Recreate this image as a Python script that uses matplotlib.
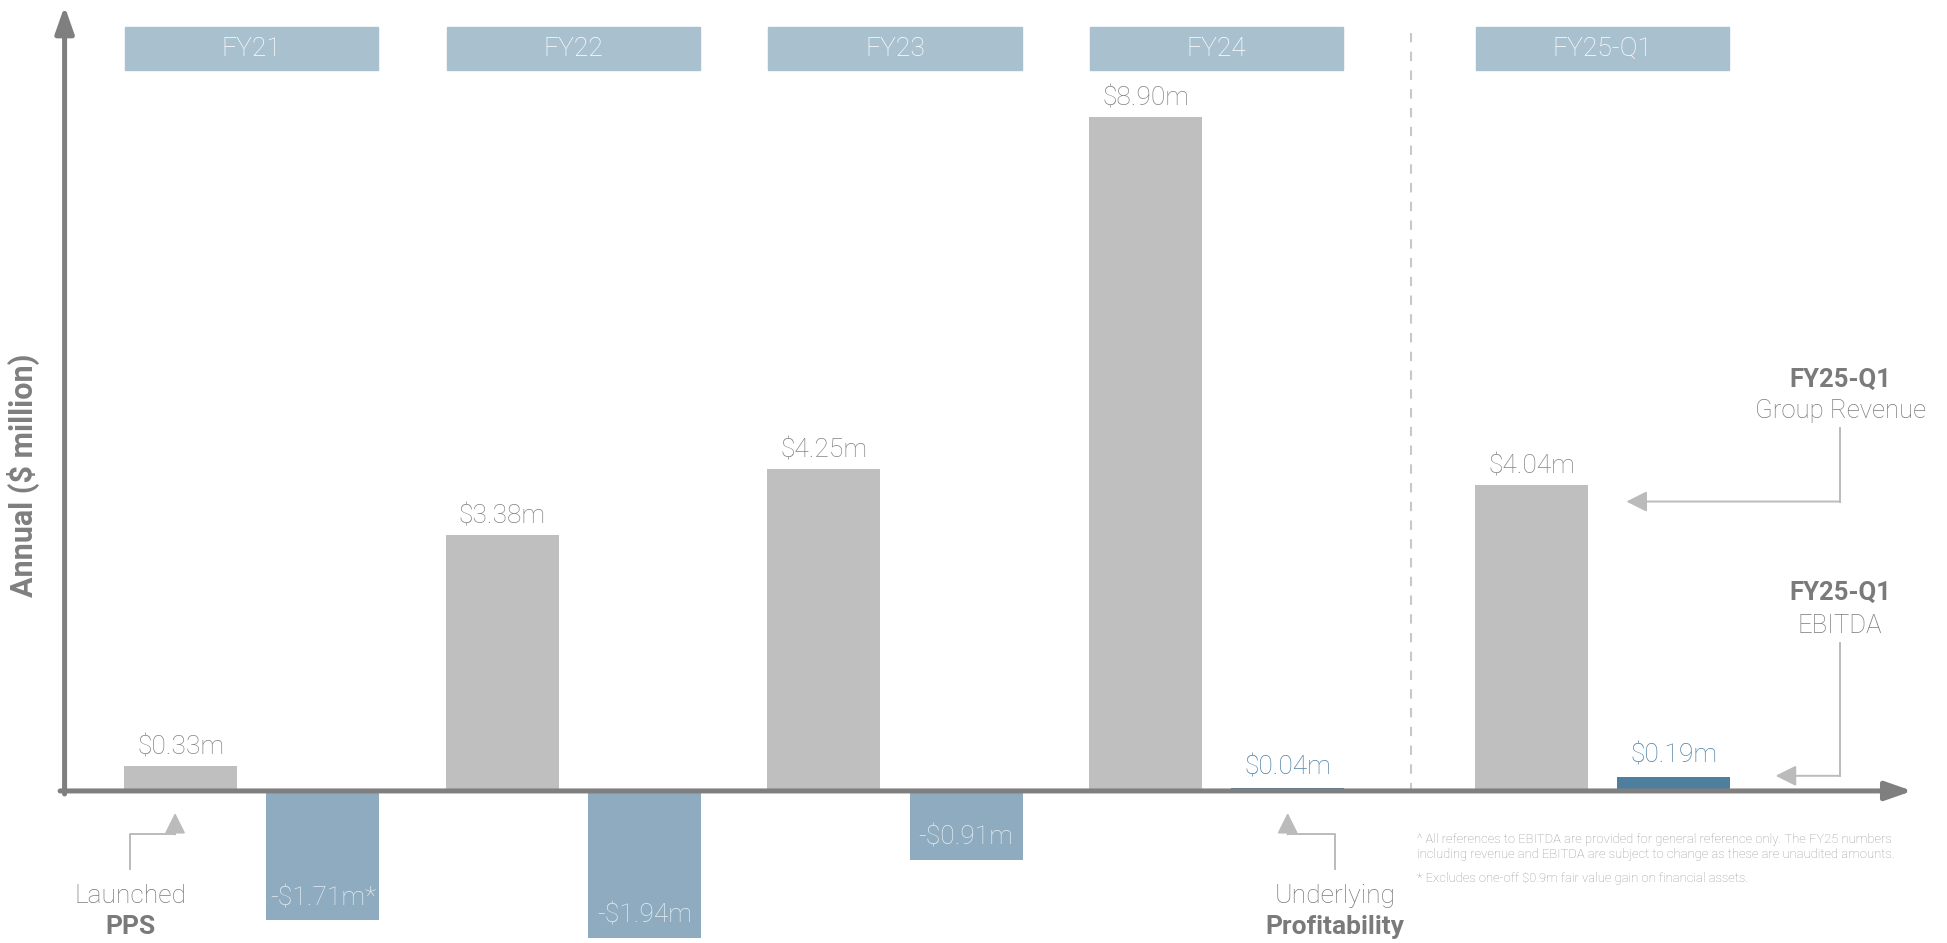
import matplotlib.pyplot as plt
from matplotlib.patches import Rectangle

plt.rcParams['font.family'] = ['Roboto', 'DejaVu Sans']

# data
periods = ["FY21", "FY22", "FY23", "FY24", "FY25-Q1"]
revenue = [0.33, 3.38, 4.25, 8.90, 4.04]
ebitda = [-1.71, -1.94, -0.91, 0.04, 0.19]
ebitda_labels = ["-$1.71m*", "-$1.94m", "-$0.91m", "$0.04m", "$0.19m"]
group_pos = [0, 1, 2, 3, 4.2]

REV_COL = "#bfbfbf"
NEG_COL = "#8eabbf"
POS_COL = "#4f7f9f"
HEAD_COL = "#a9c1cf"
AXIS_COL = "#7f7f7f"
LABEL_COL = "#828282"
NOTE_COL = "#bbbbbb"

BAR_W = 0.351
OFFSET = 0.442

fig = plt.figure(figsize=(19.47, 9.43), dpi=100)
ax = fig.add_axes([0, 0, 1, 1])
ax.set_xlim(-0.5618, 5.492)
ax.set_ylim(-2.007, 10.44)
ax.axis("off")

rev_x = [p for p in group_pos]
ebit_x = [p + OFFSET for p in group_pos]

ax.bar(rev_x, revenue, width=BAR_W, color=REV_COL, zorder=2)
ebit_cols = [NEG_COL if v < 0 else POS_COL for v in ebitda]
ax.bar(ebit_x, ebitda, width=BAR_W, color=ebit_cols, zorder=2)

# value labels
for x, v in zip(rev_x, revenue):
    ax.annotate(f"${v:.2f}m", (x, v), xytext=(0, 13), textcoords="offset points",
                ha="center", va="center", fontsize=19, color=LABEL_COL, fontweight="light")
for x, v, lab in zip(ebit_x, ebitda, ebitda_labels):
    if v < 0:
        ax.annotate(lab, (x, v), xytext=(0, 16), textcoords="offset points",
                    ha="center", va="center", fontsize=19, color="#e6edf2", fontweight="light")
    else:
        ax.annotate(lab, (x, v), xytext=(0, 15), textcoords="offset points",
                    ha="center", va="center", fontsize=19, color="#4f82a6", fontweight="light")

# period header boxes
for p, name in zip(group_pos, periods):
    cx = p + OFFSET / 2
    ax.add_patch(Rectangle((cx - 0.394, 9.51), 0.788, 0.57, color=HEAD_COL, zorder=2))
    ax.text(cx, 9.795, name, ha="center", va="center", fontsize=19, color="white",
            fontweight="light")

# axes with arrows
arrow_style = "-|>,head_length=0.8,head_width=0.28"
ax.annotate("", xy=(-0.361, 10.36), xytext=(-0.361, -0.04),
            arrowprops=dict(arrowstyle=arrow_style, mutation_scale=20, lw=3.6,
                            color=AXIS_COL, shrinkA=0, shrinkB=0), zorder=4)
ax.annotate("", xy=(5.384, 0), xytext=(-0.375, 0),
            arrowprops=dict(arrowstyle=arrow_style, mutation_scale=20, lw=3.6,
                            color=AXIS_COL, shrinkA=0, shrinkB=0), zorder=4)

ax.text(-0.488, 4.16, "Annual ($ million)", rotation=90, ha="center", va="center",
        fontsize=22, fontweight="bold", color=AXIS_COL)

# dashed divider
ax.plot([3.824, 3.824], [10.0, -0.05], color="#c8c8c8", lw=1.5,
        linestyle=(0, (4.5, 4.5)), zorder=1)

# callouts
small_arrow = dict(arrowstyle="-|>,head_length=0.9,head_width=0.45", mutation_scale=14,
                   lw=1.4, color=NOTE_COL, shrinkA=0, shrinkB=0)


def callout(path, tip):
    xs = [pt[0] for pt in path]
    ys = [pt[1] for pt in path]
    ax.plot(xs, ys, color=NOTE_COL, lw=1.4, zorder=3)
    ax.annotate("", xy=tip, xytext=path[-1], arrowprops=small_arrow, zorder=3)


callout([(5.160, 4.79), (5.160, 3.82)], (4.495, 3.82))
callout([(5.160, 1.95), (5.160, 0.20)], (4.959, 0.20))
callout([(-0.1564, -1.03), (-0.1564, -0.574), (-0.0174, -0.574)], (-0.0174, -0.29))
callout([(3.589, -1.03), (3.589, -0.574), (3.442, -0.574)], (3.442, -0.29))

TXT_COL = "#7a7a7a"
ax.text(5.160, 5.43, "FY25-Q1", ha="center", va="center", fontsize=18.5,
        fontweight="bold", color=TXT_COL)
ax.text(5.160, 5.02, "Group Revenue", ha="center", va="center", fontsize=18.5,
        fontweight="light", color=TXT_COL)
ax.text(5.160, 2.61, "FY25-Q1", ha="center", va="center", fontsize=18.5,
        fontweight="bold", color=TXT_COL)
ax.text(5.160, 2.18, "EBITDA", ha="center", va="center", fontsize=18.5,
        fontweight="light", color=TXT_COL)

ax.text(-0.1564, -1.39, "Launched", ha="center", va="center", fontsize=19,
        fontweight="light", color=TXT_COL)
ax.text(-0.1564, -1.80, "PPS", ha="center", va="center", fontsize=19,
        fontweight="bold", color=TXT_COL)
ax.text(3.589, -1.39, "Underlying", ha="center", va="center", fontsize=19,
        fontweight="light", color=TXT_COL)
ax.text(3.589, -1.80, "Profitability", ha="center", va="center", fontsize=19,
        fontweight="bold", color=TXT_COL)

# footnotes
notes = [
    "^ All references to EBITDA are provided for general reference only. The FY25 numbers",
    "including revenue and EBITDA are subject to change as these are unaudited amounts.",
    "* Excludes one-off $0.9m fair value gain on financial assets.",
]
note_y = [-0.64, -0.836, -1.148]
for t, y in zip(notes, note_y):
    ax.text(3.843, y, t, ha="left", va="center", fontsize=9.4, color="#999999",
            fontweight="light")

fig.savefig("out.png", dpi=100)
